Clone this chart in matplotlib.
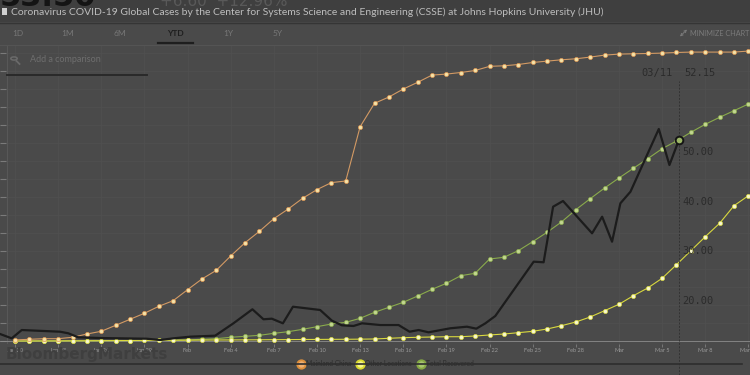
import numpy as np
import matplotlib.pyplot as plt
from matplotlib.lines import Line2D
from matplotlib.patches import Rectangle, Circle

W, H = 750, 375

# --- data (day 0 = Jan 20) ---
days = list(range(52))
tick_days = list(range(0, 52, 3))
tick_labels = ["Jan 20", "Jan 23", "Jan 26", "Jan 29", "Feb", "Feb 4", "Feb 7",
               "Feb 10", "Feb 13", "Feb 16", "Feb 19", "Feb 22", "Feb 25", "Feb 28",
               "Mar", "Mar 5", "Mar 8", "Mar 11"]

mainland_china = [300, 470, 640, 640, 1030, 1940, 2700, 4360, 6030, 7700,
                  9640, 11200, 14250, 17230, 19640, 23620, 27310, 30480, 33980, 36670,
                  39640, 42060, 44000, 44450, 59530, 66030, 67780, 70000, 71860, 73870,
                  74150, 74590, 75150, 76300, 76450, 76810, 77370, 77750, 78120, 78400,
                  78870, 79420, 79700, 79790, 79870, 79980, 80150, 80260, 80260, 80260,
                  80260, 80540]
other_locations = [5, 10, 15, 30, 50, 70, 90, 110, 130, 150,
                   180, 210, 230, 260, 280, 300, 320, 340, 370, 390,
                   420, 440, 460, 480, 510, 560, 750, 920, 1030, 1110,
                   1190, 1190, 1390, 1670, 1940, 2310, 2690, 3330, 4250, 5280,
                   6670, 8420, 10200, 12580, 14720, 17420, 21200, 25090, 28970, 32700,
                   37590, 40360]
total_recovered = [0, 0, 30, 30, 40, 50, 60, 100, 120, 140,
                   190, 250, 300, 470, 640, 1030, 1300, 1580, 2130, 2590,
                   3240, 3980, 4720, 5190, 6300, 7970, 9360, 10750, 12500, 14360,
                   16030, 18140, 18810, 22780, 23250, 25090, 27590, 30200, 33060, 36470,
                   39530, 42500, 45280, 47980, 50640, 53420, 55560, 57980, 60200, 62140,
                   63980, 65840]

# black price line (right axis), x in days
price_days = [-1.04, -0.23, 0.47, 3.13, 3.71, 4.40, 5.92, 9.17, 10.09, 11.02,
              12.18, 13.92, 15.19, 16.51, 17.28, 17.86, 18.63, 19.33, 21.22, 22.04,
              22.73, 23.54, 24.13, 25.40, 26.67, 27.44, 28.07, 28.76, 30.27, 31.43,
              32.08, 32.71, 33.40, 36.07, 36.76, 37.42, 38.11, 40.13, 40.83, 41.52,
              42.10, 42.80, 44.77, 45.51, 46.16]
price = [13.16, 12.29, 13.96, 13.62, 13.30, 12.49, 12.35, 12.21, 11.95, 12.29,
         12.62, 12.82, 15.31, 18.13, 16.12, 16.24, 15.31, 18.65, 17.99, 15.84,
         14.91, 14.77, 15.31, 14.97, 14.97, 13.62, 13.96, 13.50, 14.31, 14.63,
         14.23, 15.31, 16.78, 27.71, 27.59, 38.77, 39.92, 33.42, 36.76, 31.73,
         39.46, 41.79, 54.41, 47.16, 52.15]
price_ticks = [20, 30, 40, 50]
hover_date = "03/11"

BG = "#4a4a4a"


def fx(x):
    return x / W


def fy(y):
    return 1 - y / H


fig = plt.figure(figsize=(7.5, 3.75), dpi=100, facecolor=BG)

# --- header bands ---
fig.add_artist(Rectangle((0, fy(22)), 1, 22 / H, transform=fig.transFigure,
                         facecolor="#3f3f3f", edgecolor="none", zorder=0))
fig.add_artist(Line2D([0, 1], [fy(22.5), fy(22.5)], transform=fig.transFigure,
                      color="#353535", lw=1))
fig.text(fx(0), fy(5.5), "53.50", fontsize=22, fontweight="bold", color="#141414",
         va="baseline", ha="left")
fig.text(fx(160), fy(5.5), "+6.60  +12.96%", fontsize=11, color="#8a8a8a",
         va="baseline", ha="left", alpha=0.35)
fig.add_artist(Rectangle((fx(2), fy(15)), 5 / W, 7 / H, transform=fig.transFigure,
                         facecolor="#cfcfcf", edgecolor="none"))
fig.text(fx(11), fy(12.5),
         "Coronavirus COVID-19 Global Cases by the Center for Systems Science and "
         "Engineering (CSSE) at Johns Hopkins University (JHU)",
         fontsize=7.45, color="#bdbdbd", va="center", ha="left", family="Lato")

# range buttons
for lbl, x in zip(["1D", "1M", "6M", "YTD", "1Y", "5Y"], [18, 68, 120, 175, 228, 278]):
    sel = lbl == "YTD"
    fig.text(fx(x), fy(33), lbl, fontsize=6, ha="center", va="center",
             color="#1e1e1e" if sel else "#777777",
             fontweight="bold" if sel else "normal", family="Lato")
fig.add_artist(Line2D([fx(158), fx(193)], [fy(43), fy(43)], transform=fig.transFigure,
                      color="#1e1e1e", lw=1.6))
# minimize icon (diagonal double arrow) + label
fig.add_artist(plt.Annotation("", xy=(fx(687), fy(29.5)), xytext=(fx(680), fy(36.5)),
                              xycoords="figure fraction", textcoords="figure fraction",
                              arrowprops=dict(arrowstyle="<->", color="#7a7a7a", lw=0.7,
                                              mutation_scale=4, shrinkA=0, shrinkB=0)))
fig.text(fx(690), fy(33), "MINIMIZE CHART", fontsize=5.2, color="#7a7a7a",
         ha="left", va="center", family="Lato")
fig.add_artist(Line2D([0, 1], [fy(45), fy(45)], transform=fig.transFigure,
                      color="#545454", lw=0.8))

# comparison box
fig.add_artist(Circle((fx(14), fy(58.5)), 3.2 / W, transform=fig.transFigure,
                      facecolor="none", edgecolor="#6a6a6a", lw=1.1))
fig.add_artist(Line2D([fx(16.5), fx(19.5)], [fy(61), fy(64)], transform=fig.transFigure,
                      color="#6a6a6a", lw=1.3))
fig.text(fx(30), fy(60), "Add a comparison", fontsize=6.5, color="#6e6e6e",
         ha="left", va="center", family="Lato")
fig.add_artist(Line2D([fx(7), fx(147)], [fy(74.5), fy(74.5)], transform=fig.transFigure,
                      color="#2a2a2a", lw=1.4))

# --- main axes ---
ax = fig.add_axes([0, fy(344), 1, (344 - 45) / H])
ax.set_facecolor("none")
ax.set_xlim(-15 / 14.38, 735 / 14.38)
ax.set_ylim(-833, 82230)
for s in ax.spines.values():
    s.set_visible(False)

ax.set_yticks(np.arange(0, 80001, 5000))
ax.set_yticklabels([])
ax.tick_params(axis="y", direction="in", length=4, color="#7a7a7a", width=0.8)
ax.set_xticks(tick_days)
ax.set_xticklabels(tick_labels, fontsize=4, color="#9a9a9a", family="Lato")
ax.tick_params(axis="x", direction="out", length=2, pad=1, color="#8a8a8a", width=0.5)
ax.grid(True, color="#505050", lw=0.5)
ax.set_axisbelow(True)
ax.axvline(-8 / 14.38, color="#585858", lw=0.8, zorder=1)
ax.axhline(0, color="#8c8c8c", lw=0.6, zorder=1)

ax.plot(days, total_recovered, color="#8aab4c", lw=0.8, marker="o", ms=3,
        mfc="#c2d690", mec="#8aab4c", mew=0.5, zorder=3)
ax.plot(days, other_locations, color="#d9d93e", lw=0.8, marker="o", ms=3,
        mfc="#f8f8cf", mec="#d9d93e", mew=0.5, zorder=4)
ax.plot(days, mainland_china, color="#d39a64", lw=0.8, marker="o", ms=3,
        mfc="#f4e2a8", mec="#dc9550", mew=0.5, zorder=4)

# right axis: price
ax2 = ax.twinx()
ax2.set_ylim(11.147, 71.308)
for s in ax2.spines.values():
    s.set_visible(False)
ax2.set_yticks(price_ticks)
ax2.set_yticklabels([f"{v:.2f}" for v in price_ticks], fontsize=7.5,
                    family="DejaVu Sans Mono", color="#2b2b2b", ha="right")
ax2.tick_params(axis="y", length=0, pad=-26.5)
ax2.plot(price_days, price, color="#1c1c1c", lw=1.6, zorder=5)
ax2.plot(price_days[-1], price[-1], marker="o", ms=5.5, mfc="#9bb565",
         mec="#151515", mew=1.4, zorder=6)

# crosshair
ax2.axvline(price_days[-1], ymin=-0.105, ymax=0.88, clip_on=False, color="#333333",
            lw=0.7, ls=(0, (2, 1.5)), zorder=2)
ax2.text(price_days[-1] - 0.4, 65.6, hover_date, fontsize=7.5, family="DejaVu Sans Mono",
         color="#2b2b2b", ha="right", va="center")
ax2.text(price_days[-1] + 0.35, 65.6, f"{price[-1]:.2f}", fontsize=7.5,
         family="DejaVu Sans Mono", color="#2b2b2b", ha="left", va="center")

# --- bottom strip ---
fig.add_artist(Line2D([0, fx(742)], [fy(364), fy(364)], transform=fig.transFigure,
                      color="#2e2e2e", lw=1.2, zorder=1))
fig.text(fx(6), fy(354), "BloombergMarkets", fontsize=11, fontweight="bold",
         color="#3f3f3f", ha="left", va="center", zorder=0)

handles = [
    Line2D([], [], ls="none", marker="o", ms=6, mfc="#f0b072", mec="#dd8f3c", mew=1.4),
    Line2D([], [], ls="none", marker="o", ms=6, mfc="#f5f58a", mec="#dada2e", mew=1.4),
    Line2D([], [], ls="none", marker="o", ms=6, mfc="#a9c66e", mec="#85a944", mew=1.4),
]
leg = ax.legend(handles, ["Mainland China", "Other Locations", "Total Recovered"],
                loc="center", bbox_to_anchor=(fx(386), fy(363.5)),
                bbox_transform=fig.transFigure, ncol=3, frameon=False, fontsize=4.8,
                handlelength=0.9, handletextpad=0.3, columnspacing=0.9,
                labelcolor="#2c2c2c", borderpad=0)
for t in leg.get_texts():
    t.set_family("Lato")

fig.savefig("out.png", dpi=100, facecolor=BG)
